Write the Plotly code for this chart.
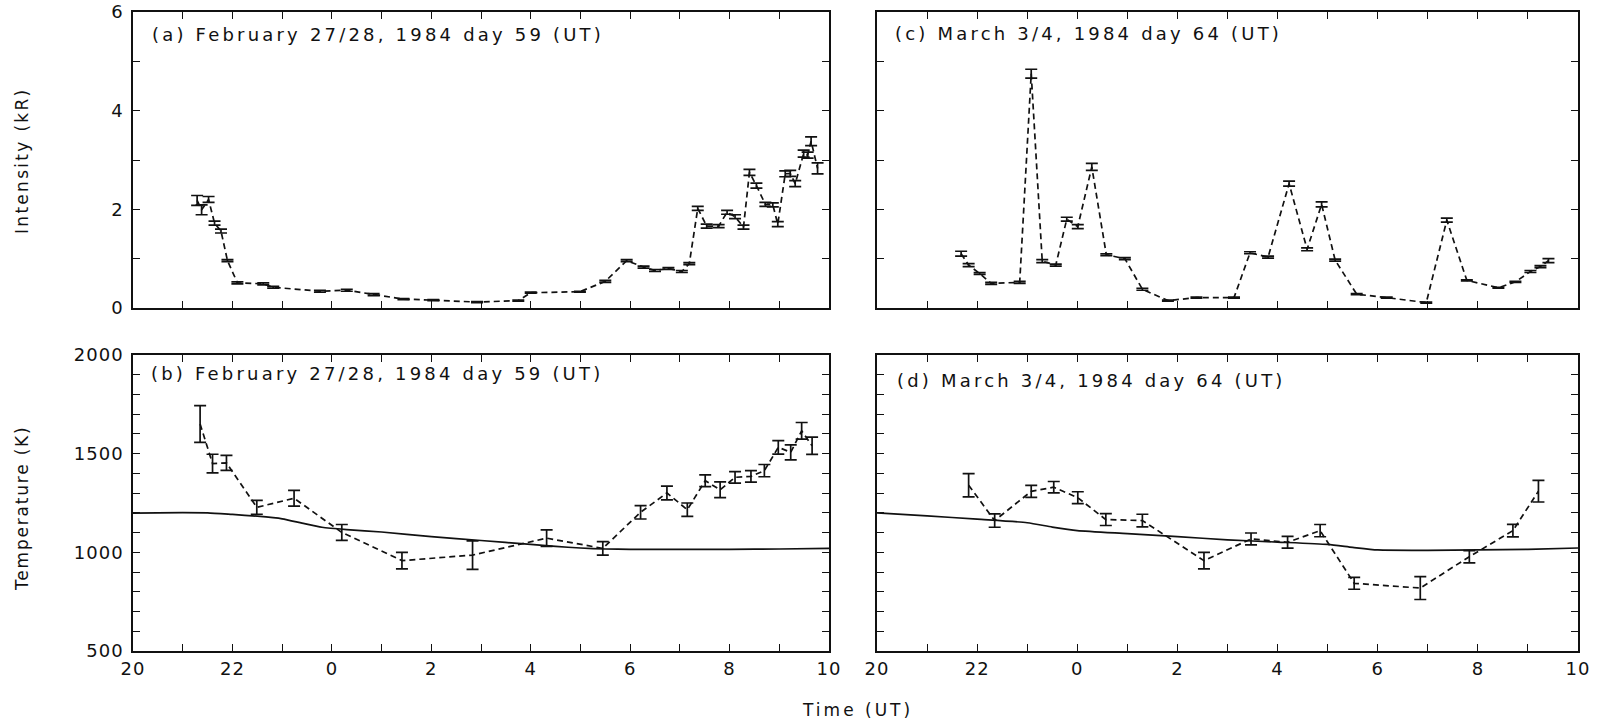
import plotly.graph_objects as go

# ---------------- data (time in hours, 24 = 0 UT next day) ----------------
a_time = [21.29, 21.38, 21.52, 21.64, 21.77, 21.90, 22.10, 22.62, 22.82, 23.76, 24.30,
          24.84, 25.44, 26.04, 26.92, 27.75, 28.00, 28.99, 29.50, 29.93, 30.27, 30.50,
          30.77, 31.04, 31.19, 31.36, 31.54, 31.78, 31.95, 32.11, 32.28, 32.40, 32.54,
          32.72, 32.87, 32.97, 33.12, 33.22, 33.32, 33.49, 33.57, 33.64, 33.77]
a_int = [2.18, 1.99, 2.20, 1.72, 1.56, 0.96, 0.51, 0.49, 0.42, 0.34, 0.36,
         0.27, 0.18, 0.16, 0.12, 0.15, 0.31, 0.33, 0.54, 0.96, 0.83, 0.76,
         0.80, 0.74, 0.90, 2.02, 1.66, 1.66, 1.94, 1.85, 1.64, 2.75, 2.48,
         2.10, 2.09, 1.70, 2.72, 2.73, 2.52, 3.13, 3.10, 3.38, 2.83]
a_err = [0.10, 0.10, 0.06, 0.04, 0.04, 0.02, 0.02, 0.02, 0.02, 0.02, 0.02,
         0.02, 0.01, 0.01, 0.01, 0.01, 0.01, 0.01, 0.02, 0.02, 0.02, 0.02,
         0.02, 0.02, 0.02, 0.04, 0.04, 0.03, 0.04, 0.04, 0.04, 0.06, 0.05,
         0.04, 0.04, 0.05, 0.06, 0.06, 0.06, 0.07, 0.06, 0.09, 0.11]

b_time = [21.35, 21.60, 21.88, 22.49, 23.24, 24.20, 25.41, 26.83, 28.32, 29.45, 30.21,
          30.74, 31.15, 31.51, 31.81, 32.11, 32.43, 32.70, 32.98, 33.23, 33.45, 33.66]
b_temp = [1650, 1450, 1453, 1228, 1274, 1101, 958, 986, 1072, 1020, 1203,
          1301, 1216, 1363, 1317, 1380, 1385, 1414, 1532, 1507, 1616, 1540]
b_err = [93, 47, 38, 35, 40, 40, 42, 72, 42, 34, 34,
         35, 34, 30, 40, 29, 29, 31, 34, 38, 42, 44]
b_model_time = [20, 21, 21.5, 22, 22.5, 23, 23.4, 23.8, 24.3, 25, 26, 27, 28, 28.5, 29, 29.5, 30, 31, 32, 33, 34]
b_model_temp = [1199, 1201, 1200, 1192, 1183, 1170, 1148, 1127, 1115, 1103, 1080, 1060, 1040, 1030, 1022, 1017, 1015, 1015, 1015, 1017, 1020]

c_time = [21.68, 21.83, 22.05, 22.28, 22.85, 23.08, 23.30, 23.57, 23.79, 24.01, 24.29,
          24.58, 24.95, 25.30, 25.81, 26.38, 27.13, 27.45, 27.81, 28.23, 28.59, 28.88,
          29.15, 29.58, 30.18, 30.97, 31.38, 31.78, 32.41, 32.75, 33.05, 33.25, 33.41]
c_int = [1.10, 0.87, 0.70, 0.50, 0.52, 4.75, 0.95, 0.87, 1.80, 1.65, 2.86,
         1.08, 1.00, 0.38, 0.15, 0.21, 0.21, 1.12, 1.03, 2.52, 1.19, 2.10,
         0.97, 0.28, 0.21, 0.11, 1.78, 0.56, 0.41, 0.53, 0.74, 0.84, 0.96]
c_err = [0.05, 0.03, 0.02, 0.02, 0.02, 0.09, 0.03, 0.02, 0.04, 0.04, 0.07,
         0.02, 0.02, 0.02, 0.01, 0.01, 0.01, 0.02, 0.02, 0.05, 0.03, 0.05,
         0.02, 0.01, 0.01, 0.01, 0.04, 0.01, 0.01, 0.01, 0.02, 0.02, 0.04]

d_time = [21.83, 22.35, 23.08, 23.53, 24.01, 24.57, 25.30, 26.53, 27.47, 28.20, 28.85,
          29.53, 30.85, 31.83, 32.70, 33.21]
d_temp = [1340, 1161, 1309, 1330, 1277, 1166, 1161, 958, 1068, 1051, 1110,
          843, 819, 978, 1110, 1310]
d_err = [59, 34, 30, 29, 30, 30, 32, 42, 30, 30, 31,
         30, 58, 31, 32, 55]
d_model_time = [20, 21, 22, 23, 23.5, 24, 25, 26, 27, 28, 29, 29.5, 30, 31, 32, 33, 34]
d_model_temp = [1200, 1185, 1168, 1150, 1128, 1110, 1095, 1080, 1063, 1052, 1040, 1025, 1012, 1010, 1012, 1015, 1022]

hour_ticks = list(range(20, 35))
hour_text = [str(h % 24) if h % 2 == 0 else "" for h in hour_ticks]
int_ticks = [0, 1, 2, 3, 4, 5, 6]
int_text = ["0", "", "2", "", "4", "", "6"]
temp_ticks = list(range(500, 2001, 100))
temp_text = [str(t) if t % 500 == 0 else "" for t in temp_ticks]

labels = ["(a) February 27/28, 1984 day 59 (UT)",
          "(b) February 27/28, 1984 day 59 (UT)",
          "(c) March 3/4, 1984 day 64 (UT)",
          "(d) March 3/4, 1984 day 64 (UT)"]

# ---------------- styling ----------------
FONT = "DejaVu Sans"
BLACK = "#111111"


def sp(text, ls):
    return '<span style="letter-spacing:%spx">%s</span>' % (ls, text)


fig = go.Figure()


def data_trace(x, y, e, xa, ya):
    fig.add_trace(go.Scatter(
        x=x, y=y, mode="lines", xaxis=xa, yaxis=ya,
        line=dict(color=BLACK, width=1.7, dash="6px,4px"),
        error_y=dict(type="data", array=e, visible=True, color=BLACK,
                     thickness=1.7, width=6),
        showlegend=False, hoverinfo="skip"))


def model_trace(x, y, xa, ya):
    fig.add_trace(go.Scatter(
        x=x, y=y, mode="lines", xaxis=xa, yaxis=ya,
        line=dict(color=BLACK, width=1.7, shape="spline", smoothing=0.6),
        showlegend=False, hoverinfo="skip"))


data_trace(a_time, a_int, a_err, "x", "y")
data_trace(b_time, b_temp, b_err, "x2", "y2")
model_trace(b_model_time, b_model_temp, "x2", "y2")
data_trace(c_time, c_int, c_err, "x3", "y3")
data_trace(d_time, d_temp, d_err, "x4", "y4")
model_trace(d_model_time, d_model_temp, "x4", "y4")

W, H = 1600, 725
left_dom = [133 / W, 829 / W]
right_dom = [877 / W, 1578 / W]
top_dom = [1 - 308 / H, 1 - 12 / H]
bot_dom = [1 - 651 / H, 1 - 355 / H]

tickfont = dict(family=FONT, size=18, color=BLACK)


def xaxis(dom, anchor, labels_on):
    return dict(domain=dom, anchor=anchor, range=[20, 34], tickmode="array",
                tickvals=hour_ticks, ticktext=[sp(t, 1) for t in hour_text],
                showticklabels=labels_on, ticks="inside", ticklen=7, tickwidth=1.3,
                tickcolor=BLACK, showline=True, linecolor=BLACK, linewidth=1.6,
                mirror="ticks", showgrid=False, zeroline=False, tickfont=tickfont,
                ticklabelstandoff=1, automargin=False)


def yaxis(dom, anchor, rng, tv, tt, labels_on):
    return dict(domain=dom, anchor=anchor, range=rng, tickmode="array",
                tickvals=tv, ticktext=[sp(t, 1) for t in tt],
                showticklabels=labels_on, ticks="inside", ticklen=7, tickwidth=1.3,
                tickcolor=BLACK, showline=True, linecolor=BLACK, linewidth=1.6,
                mirror="ticks", showgrid=False, zeroline=False, tickfont=tickfont,
                ticklabelstandoff=4, automargin=False)


fig.update_layout(
    width=W, height=H,
    margin=dict(l=0, r=0, t=0, b=0),
    paper_bgcolor="white", plot_bgcolor="white",
    font=dict(family=FONT, color=BLACK),
    xaxis=xaxis(left_dom, "y", False),
    yaxis=yaxis(top_dom, "x", [0, 6], int_ticks, int_text, True),
    xaxis2=xaxis(left_dom, "y2", True),
    yaxis2=yaxis(bot_dom, "x2", [500, 2000], temp_ticks, temp_text, True),
    xaxis3=xaxis(right_dom, "y3", False),
    yaxis3=yaxis(top_dom, "x3", [0, 6], int_ticks, int_text, False),
    xaxis4=xaxis(right_dom, "y4", True),
    yaxis4=yaxis(bot_dom, "x4", [500, 2000], temp_ticks, temp_text, False),
)

ann_font = dict(family=FONT, size=18, color=BLACK)
label_pos = [(150, 35), (149, 373), (893, 33), (895, 380)]
for txt, (px, py) in zip(labels, label_pos):
    fig.add_annotation(text=sp(txt, 3.2), x=px / W, y=1 - py / H, xref="paper", yref="paper",
                       xanchor="left", yanchor="middle", showarrow=False, font=ann_font)

title_font = dict(family=FONT, size=17, color=BLACK)
fig.add_annotation(text=sp("Intensity (kR)", 2.3), x=22 / W, y=1 - 161 / H, xref="paper",
                   yref="paper", textangle=-90, showarrow=False, font=title_font,
                   xanchor="center", yanchor="middle")
fig.add_annotation(text=sp("Temperature (K)", 1.8), x=22 / W, y=1 - 508 / H, xref="paper",
                   yref="paper", textangle=-90, showarrow=False, font=title_font,
                   xanchor="center", yanchor="middle")
fig.add_annotation(text=sp("Time (UT)", 3.0), x=857 / W, y=1 - 710 / H, xref="paper",
                   yref="paper", showarrow=False, font=title_font,
                   xanchor="center", yanchor="middle")

fig.write_html("out.html")
